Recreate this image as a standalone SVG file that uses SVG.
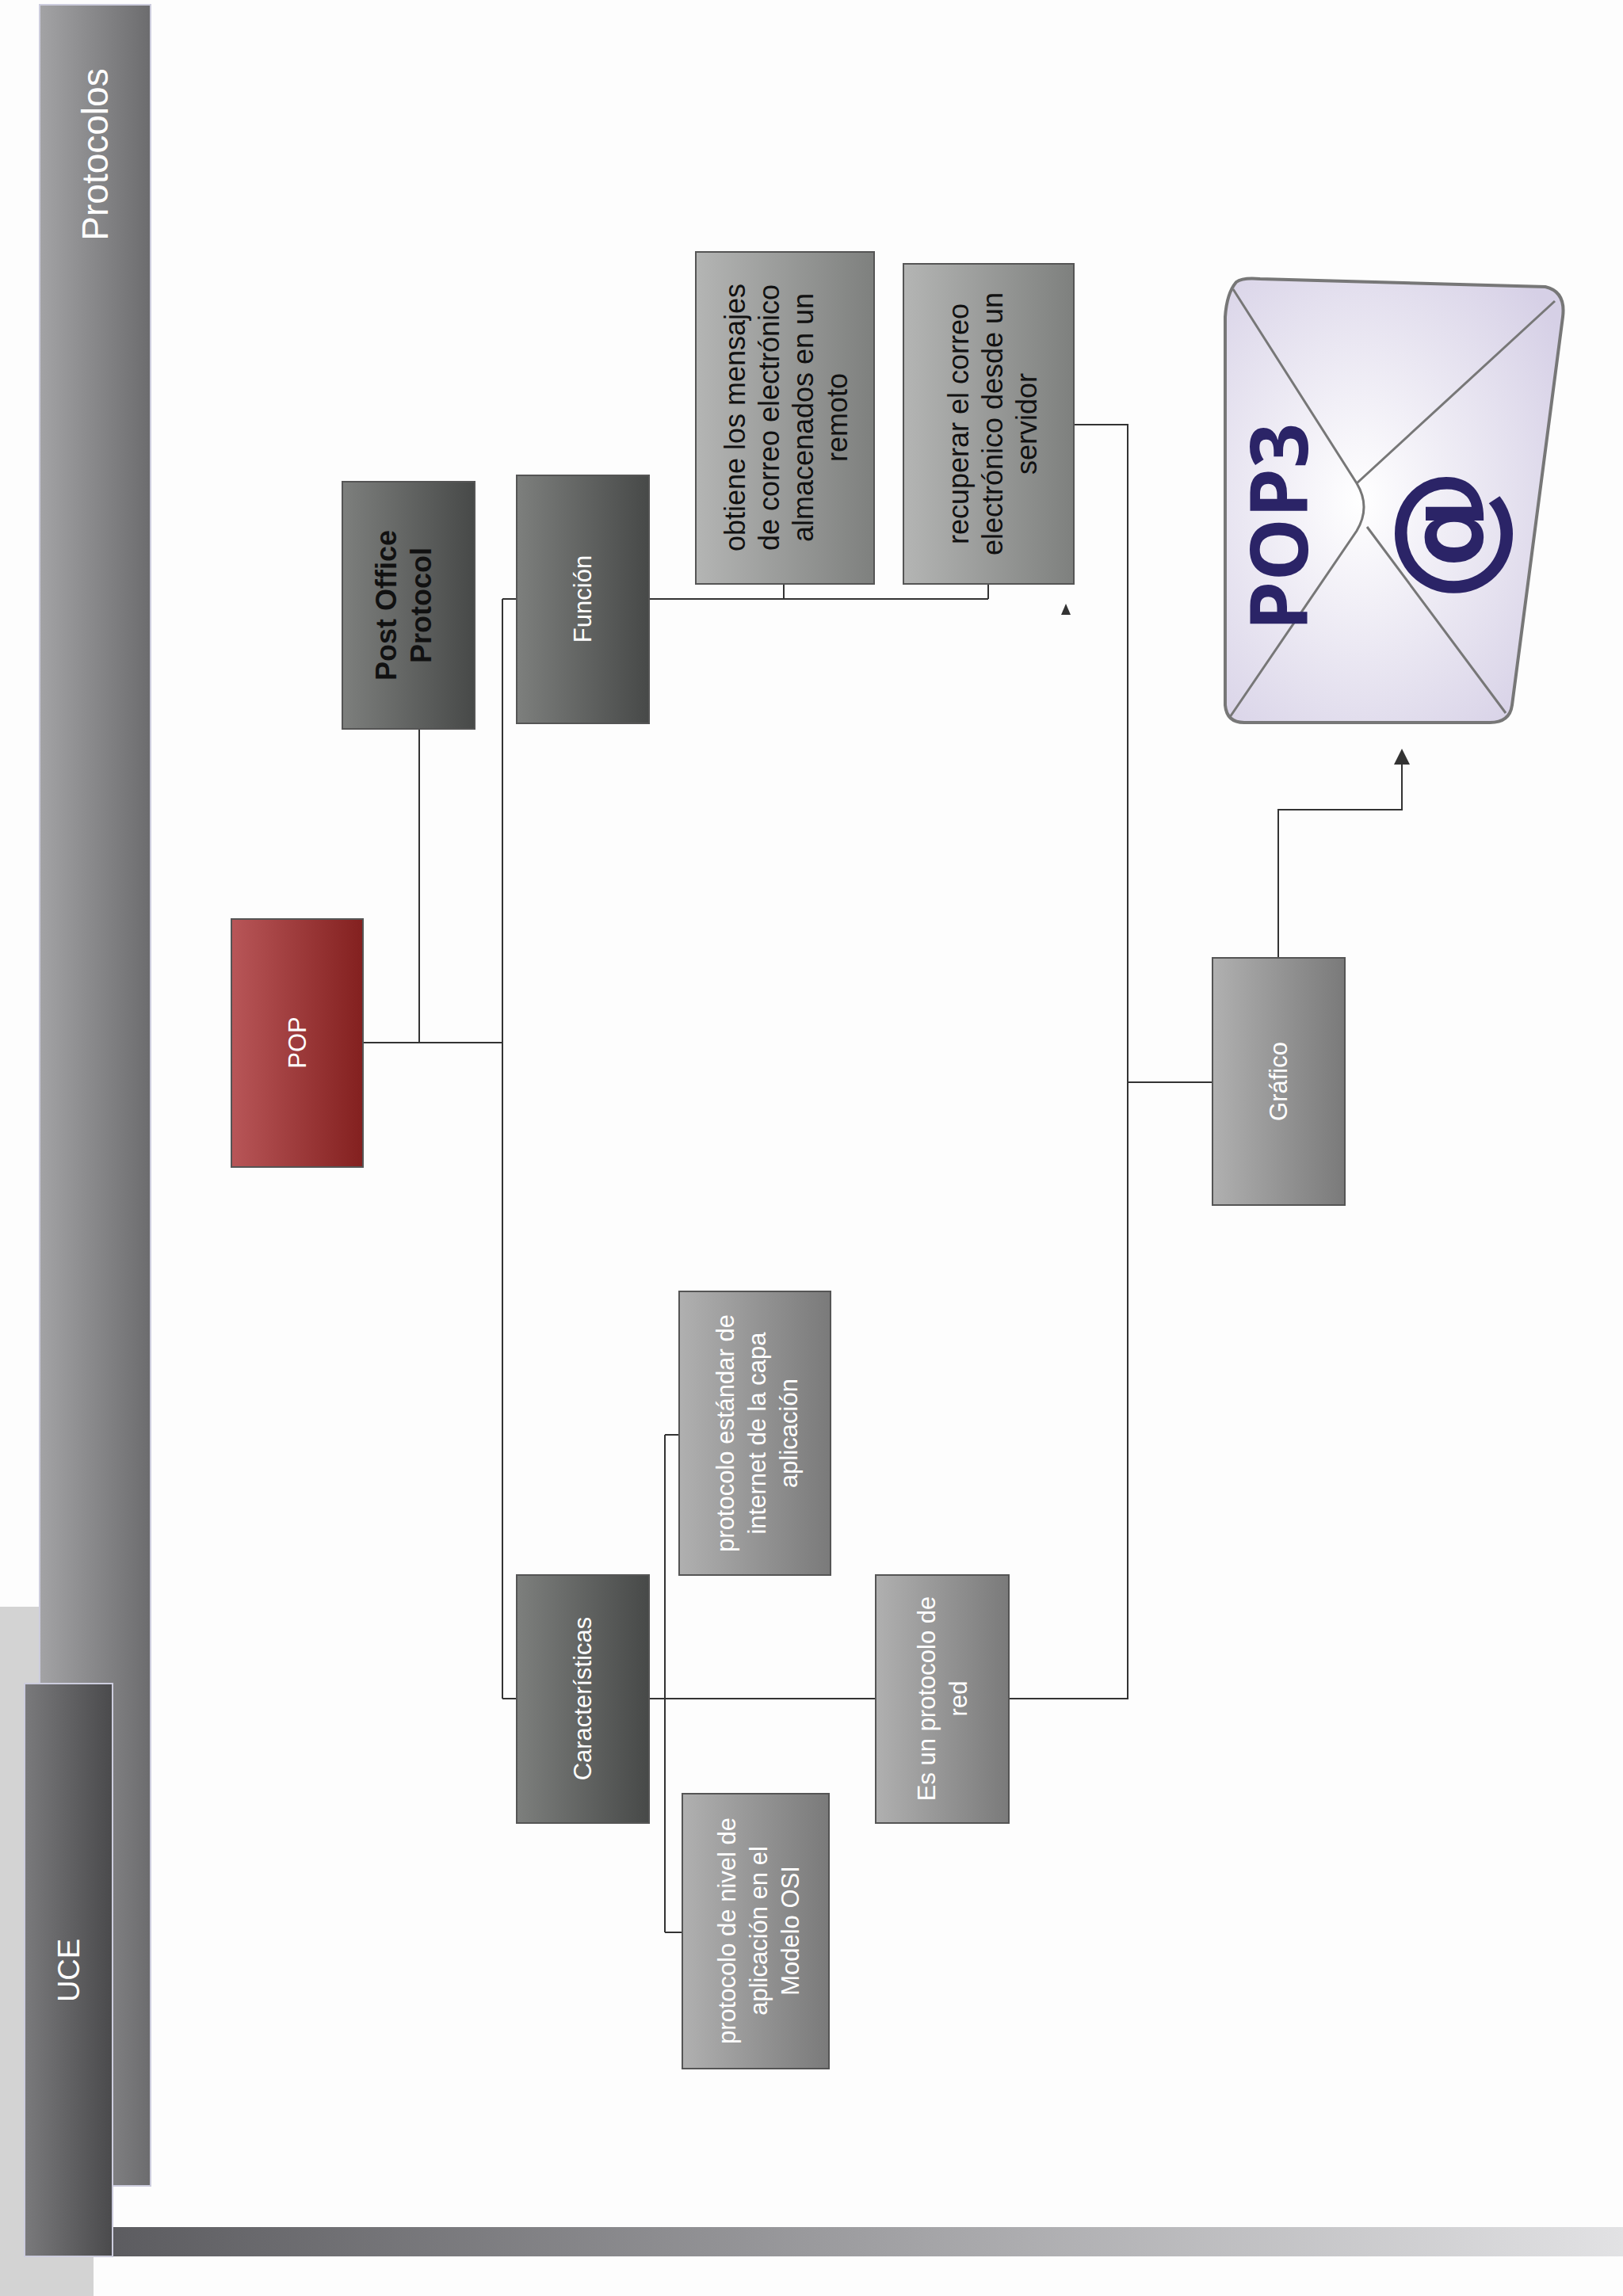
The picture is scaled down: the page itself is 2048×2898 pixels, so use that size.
<svg xmlns="http://www.w3.org/2000/svg" width="2048" height="2898" viewBox="0 0 2048 2898">
<defs>
<linearGradient id="gBar" x1="0" x2="1" y1="0" y2="0"><stop offset="0" stop-color="#a3a3a5"/><stop offset="1" stop-color="#6c6c6e"/></linearGradient>
<linearGradient id="gDark" x1="0" x2="1" y1="0" y2="0"><stop offset="0" stop-color="#7d7f7d"/><stop offset="1" stop-color="#474948"/></linearGradient>
<linearGradient id="gMid" x1="0" x2="1" y1="0" y2="0"><stop offset="0" stop-color="#b0b0b0"/><stop offset="1" stop-color="#7a7a7a"/></linearGradient>
<linearGradient id="gLight" x1="0" x2="1" y1="0" y2="0"><stop offset="0" stop-color="#b4b5b4"/><stop offset="1" stop-color="#7e807e"/></linearGradient>
<linearGradient id="gRed" x1="0" x2="1" y1="0" y2="0"><stop offset="0" stop-color="#b85658"/><stop offset="1" stop-color="#83201f"/></linearGradient>
<linearGradient id="gBottom" x1="0" x2="1" y1="0" y2="0"><stop offset="0" stop-color="#5c5c60"/><stop offset="1" stop-color="#e2e2e4"/></linearGradient>
<linearGradient id="gUce" x1="0" x2="1" y1="0" y2="0"><stop offset="0" stop-color="#7a7a7c"/><stop offset="1" stop-color="#4a4a4c"/></linearGradient>
<radialGradient id="gEnv" cx="0.4" cy="0.5" r="0.7"><stop offset="0" stop-color="#ffffff"/><stop offset="1" stop-color="#d6d0e6"/></radialGradient>
<marker id="arr" markerWidth="10" markerHeight="10" refX="5" refY="5" orient="auto"><path d="M0,0 L10,5 L0,10 z" fill="#333"/></marker>
</defs>
<style>
.box{stroke:#555;stroke-width:2}
.t{font-family:"Liberation Sans",Arial,sans-serif;fill:#fff;font-size:31px;text-anchor:middle}
.tb{font-family:"Liberation Sans",Arial,sans-serif;fill:#111;font-size:36px;text-anchor:middle}
.c{fill:none;stroke:#333;stroke-width:2}
</style>
<rect width="2048" height="2898" fill="#fdfdfd"/>
<g id="frame">
<rect x="0" y="2028" width="118" height="870" fill="#d3d3d3"/>
<rect x="50" y="6" width="140" height="2753" fill="url(#gBar)" stroke="#ccccdd" stroke-width="2"/>
<text class="t" style="font-size:46px" transform="translate(136,195) rotate(-90)">Protocolos</text>
<rect x="142" y="2811" width="1906" height="37" fill="url(#gBottom)"/>
<rect x="31" y="2125" width="111" height="723" fill="url(#gUce)" stroke="#ccccdd" stroke-width="2"/>
<text class="t" style="font-size:38px" transform="translate(100,2487) rotate(-90)">UCE</text>
</g>
<g id="connectors">
<path class="c" d="M458,1316 H634 M529,1316 V920 M634,756 V2144 M634,756 H652 M634,2144 H652"/>
<path class="c" d="M819,756 H1247 M989,756 V737 M1247,756 V737"/>
<path class="c" d="M819,2144 H1105 M839,1811 V2439 M839,1811 H857 M839,2439 H861"/>
<path class="c" d="M1273,2144 H1423 V536 H1355 M1423,1366 H1530"/>
<path class="c" d="M1613,1209 V1022 H1769 V955" marker-end="url(#arr)"/>
<polygon points="1345,762 1339,776 1351,776" fill="#333"/>
</g>
<g id="pop"><rect class="box" x="292" y="1160" width="166" height="313" fill="url(#gRed)"/>
<text class="t" transform="translate(386,1316) rotate(-90)">POP</text></g>
<g id="postoffice"><rect class="box" x="432" y="608" width="167" height="312" fill="url(#gDark)"/>
<text class="tb" font-weight="bold" transform="translate(500,764) rotate(-90)"><tspan x="0">Post Office</tspan><tspan x="0" dy="44">Protocol</tspan></text></g>
<g id="funcion"><rect class="box" x="652" y="600" width="167" height="313" fill="url(#gDark)"/>
<text class="t" transform="translate(746,756) rotate(-90)">Función</text></g>
<g id="obtiene"><rect class="box" x="878" y="318" width="225" height="419" fill="url(#gLight)" stroke="#999"/>
<text class="tb" transform="translate(940,527) rotate(-90)"><tspan x="0">obtiene los mensajes</tspan><tspan x="0" dy="43">de correo electrónico</tspan><tspan x="0" dy="43">almacenados en un</tspan><tspan x="0" dy="43">remoto</tspan></text></g>
<g id="recuperar"><rect class="box" x="1140" y="333" width="215" height="404" fill="url(#gLight)" stroke="#999"/>
<text class="tb" transform="translate(1222,535) rotate(-90)"><tspan x="0">recuperar el correo</tspan><tspan x="0" dy="43">electrónico desde un</tspan><tspan x="0" dy="43">servidor</tspan></text></g>
<g id="caracteristicas"><rect class="box" x="652" y="1988" width="167" height="313" fill="url(#gDark)"/>
<text class="t" transform="translate(746,2144) rotate(-90)">Características</text></g>
<g id="estandar"><rect class="box" x="857" y="1630" width="191" height="358" fill="url(#gMid)" stroke="#999"/>
<text class="t" transform="translate(926,1809) rotate(-90)"><tspan x="0">protocolo estándar de</tspan><tspan x="0" dy="40">internet  de la capa</tspan><tspan x="0" dy="40">aplicación</tspan></text></g>
<g id="esunprotocolo"><rect class="box" x="1105" y="1988" width="168" height="313" fill="url(#gMid)" stroke="#999"/>
<text class="t" transform="translate(1180,2144) rotate(-90)"><tspan x="0">Es un protocolo de</tspan><tspan x="0" dy="40">red</tspan></text></g>
<g id="nivel"><rect class="box" x="861" y="2264" width="185" height="347" fill="url(#gMid)" stroke="#999"/>
<text class="t" transform="translate(928,2437) rotate(-90)"><tspan x="0">protocolo de nivel de</tspan><tspan x="0" dy="40">aplicación en el</tspan><tspan x="0" dy="40">Modelo OSI</tspan></text></g>
<g id="grafico"><rect class="box" x="1530" y="1209" width="167" height="312" fill="url(#gMid)" stroke="#999"/>
<text class="t" transform="translate(1624,1365) rotate(-90)">Gráfico</text></g>
<g id="envelope">
<path d="M1560,356 Q1548,370 1546,400 L1546,890 Q1548,912 1570,912 L1880,912 Q1905,912 1908,890 L1972,400 Q1976,368 1950,362 L1590,352 Q1568,350 1560,356 z" fill="url(#gEnv)" stroke="#777" stroke-width="4"/>
<path d="M1556,365 L1712,610 Q1730,640 1712,670 L1552,905" fill="none" stroke="#777" stroke-width="3"/>
<path d="M1962,380 L1712,610 M1900,900 L1725,665" fill="none" stroke="#777" stroke-width="3"/>
<text transform="translate(1650,665) rotate(-90)" font-family="'Open Sans','DejaVu Sans',sans-serif" font-weight="bold" font-size="100" fill="#2b2467" text-anchor="middle">POP3</text>
<text transform="translate(1880,675) rotate(-90)" font-family="'DejaVu Sans',sans-serif" font-weight="bold" font-size="170" fill="#2b2467" text-anchor="middle">@</text>
</g>
</svg>
